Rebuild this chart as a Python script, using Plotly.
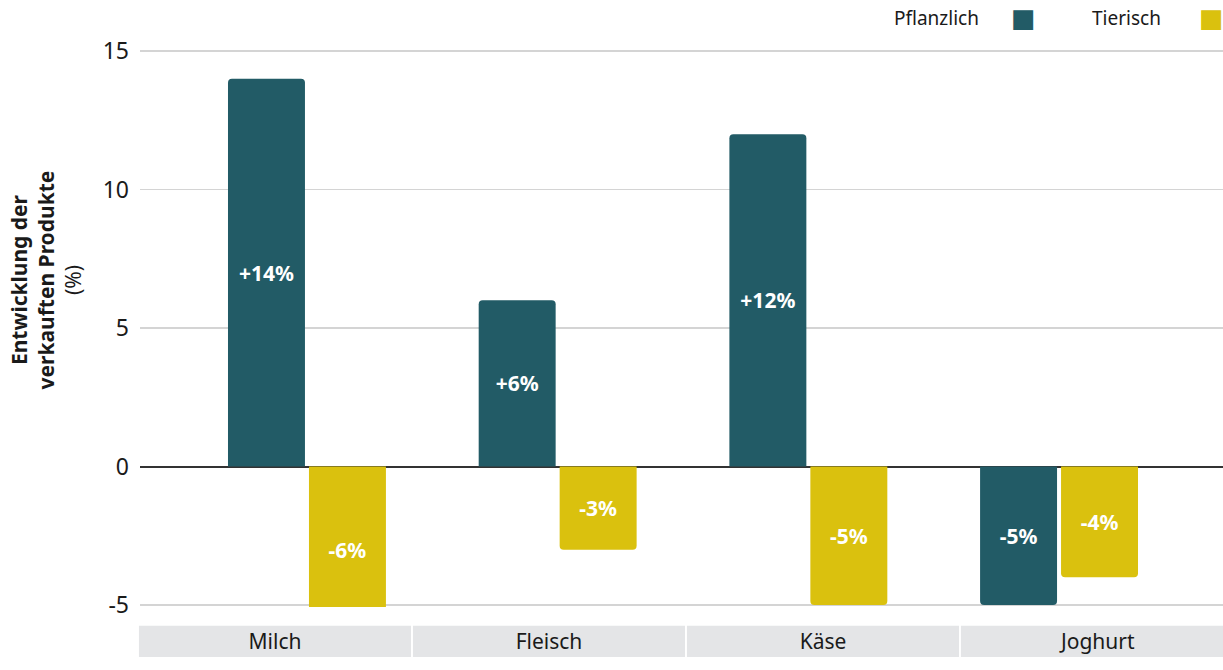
import plotly.graph_objects as go

# ---- data ----
categories = ["Milch", "Fleisch", "Käse", "Joghurt"]
series_names = ["Pflanzlich", "Tierisch"]
pflanzlich = [14, 6, 12, -5]
tierisch = [-6, -3, -5, -4]
y_ticks = [-5, 0, 5, 10, 15]
y_title_bold = ["Entwicklung der", "verkauften Produkte"]
y_title_unit = "(%)"

# ---- style ----
colors = ["#225b66", "#dac10e"]
band_color = "#e4e5e7"
FONT = "Noto Sans"
W, H = 1223, 670

def labels(vals):
    return [f"{v:+d}%" for v in vals]

fig = go.Figure()

bar_w = 0.307
offsets = [-0.315, 0.008]
for name, vals, col, off in zip(series_names, [pflanzlich, tierisch], colors, offsets):
    fig.add_trace(go.Bar(
        x=categories, y=vals, name=name,
        marker=dict(color=col, line=dict(width=0), cornerradius=4),
        width=bar_w, offset=off,
        text=labels(vals), texttemplate="<b>%{text}</b>",
        textposition="inside", insidetextanchor="middle", textangle=0,
        constraintext="none",
        insidetextfont=dict(color="white", size=21, family=FONT),
        xaxis="x", yaxis="y", showlegend=False,
        hovertemplate=name + ": %{y}%<extra></extra>",
    ))

# category band below the plot
fig.add_trace(go.Bar(
    x=categories, y=[1] * len(categories), base=0,
    width=0.993,
    marker=dict(color=band_color, line=dict(width=0)),
    text=categories, textposition="inside", insidetextanchor="middle",
    textangle=0, constraintext="none",
    insidetextfont=dict(color="#1a1a1a", size=21, family=FONT),
    xaxis="x2", yaxis="y2", showlegend=False, hoverinfo="skip",
))

x_left = 140 / W
fig.update_layout(
    width=W, height=H, autosize=False,
    margin=dict(l=0, r=0, t=0, b=0, pad=0),
    paper_bgcolor="white", plot_bgcolor="white",
    font=dict(family=FONT, color="#1a1a1a"),
    barmode="overlay",
    xaxis=dict(domain=[x_left, 1], range=[-0.666, 3.654],
               showticklabels=False, showgrid=False, zeroline=False,
               showline=False, ticks="", fixedrange=True),
    yaxis=dict(domain=[1 - 619 / H, 1 - 30 / H], range=[-5.07, 15.78],
               tickvals=y_ticks, ticktext=[str(t) for t in y_ticks],
               tickfont=dict(size=23, color="#1a1a1a", family=FONT),
               showgrid=True, gridcolor="#d4d4d4", gridwidth=1.5,
               zeroline=True, zerolinecolor="#333333", zerolinewidth=2,
               showline=False, ticks="", ticklabelstandoff=10,
               fixedrange=True),
    xaxis2=dict(domain=[138 / W, 1], range=[-0.5, 3.46], anchor="y2",
                showticklabels=False, showgrid=False, zeroline=False,
                showline=False, ticks="", fixedrange=True),
    yaxis2=dict(domain=[0, 1 - 638 / H], range=[0, 1], anchor="x2",
                showticklabels=False, showgrid=False, zeroline=False,
                showline=False, ticks="", fixedrange=True),
)

# y-axis title
fig.add_annotation(
    text="<b>" + "<br>".join(y_title_bold) + "</b><br>" + y_title_unit,
    xref="paper", yref="paper", x=46 / W, y=1 - 286 / H,
    xanchor="center", yanchor="middle", textangle=-90, showarrow=False,
    font=dict(size=21, color="#1a1a1a", family=FONT), align="center",
)

# legend (text followed by colour swatch)
legend_text_right = [981, 1163]
legend_swatch_left = [1009, 1197]
for name, col, tx, sx in zip(series_names, colors, legend_text_right, legend_swatch_left):
    fig.add_annotation(text=name, xref="paper", yref="paper",
                       x=tx / W, y=1 - 18 / H, xanchor="right", yanchor="middle",
                       showarrow=False, font=dict(size=19, color="#1a1a1a", family=FONT))
    fig.add_annotation(text="■", xref="paper", yref="paper",
                       x=sx / W, y=1 - 18 / H, xanchor="left", yanchor="middle",
                       showarrow=False, font=dict(size=26, color=col, family="DejaVu Sans"))

fig.write_html(
    "out.html",
    config={"displayModeBar": False, "staticPlot": True},
    post_script=(
        "var s=document.createElement('style');"
        "s.textContent='html,body{margin:0;padding:0;width:1223px;height:670px;overflow:hidden;}"
        ".plotly-graph-div{display:block;}';"
        "document.head.appendChild(s);"
    ),
)
